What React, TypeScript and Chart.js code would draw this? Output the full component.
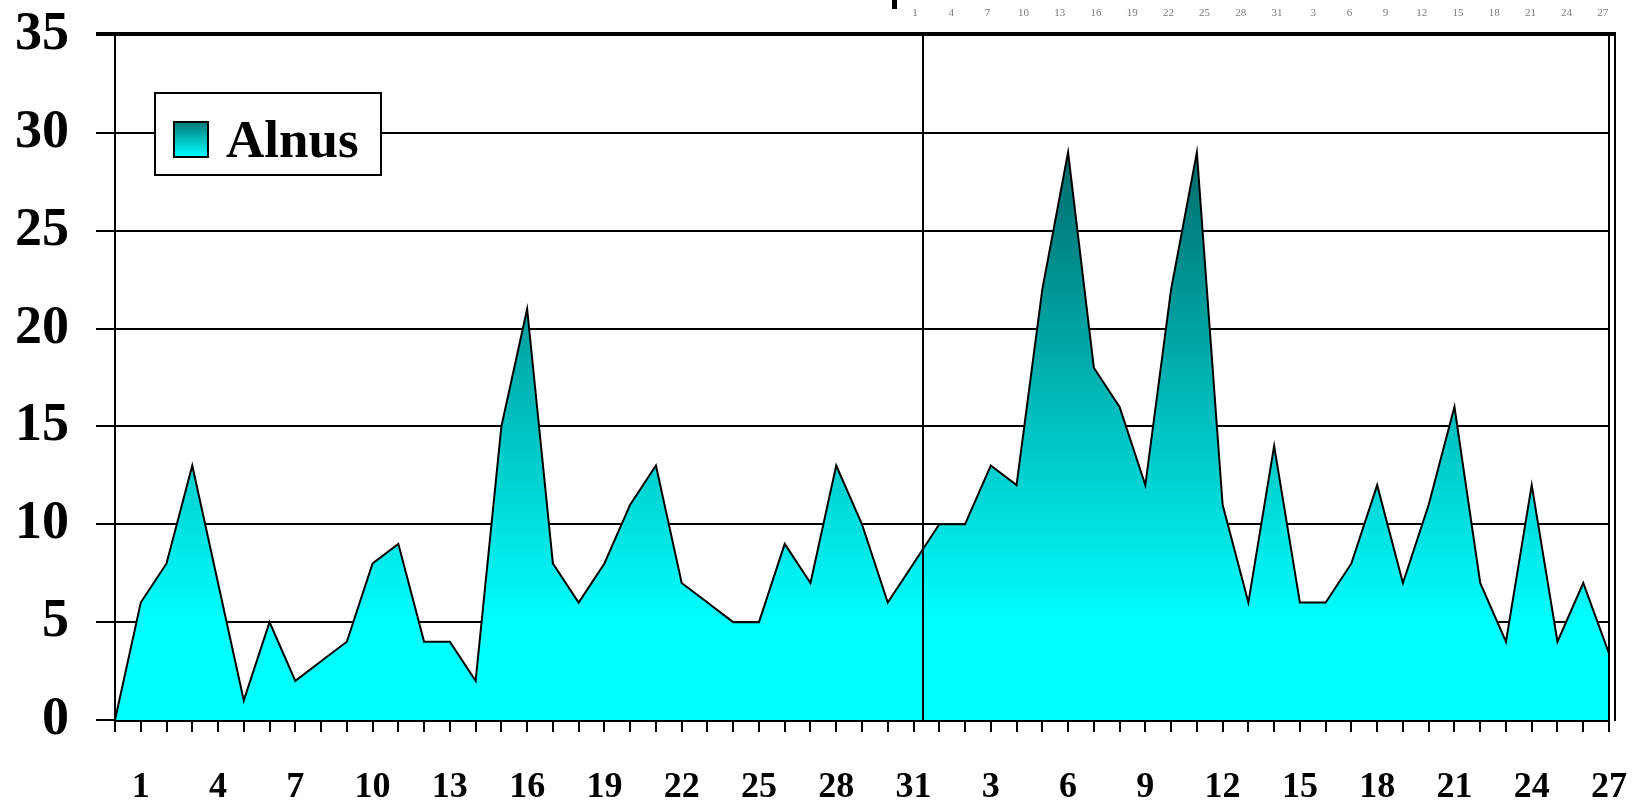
import React, { useEffect, useRef } from "react";
import { Chart, registerables } from "chart.js";

Chart.register(...registerables);

// ---- data ----
const seriesName = "Alnus";

// index 0 is the zero start point, then 1-31 (month 1) and 1-27 (month 2)
const dayLabels = [
  "",
  "1", "2", "3", "4", "5", "6", "7", "8", "9", "10",
  "11", "12", "13", "14", "15", "16", "17", "18", "19", "20",
  "21", "22", "23", "24", "25", "26", "27", "28", "29", "30", "31",
  "1", "2", "3", "4", "5", "6", "7", "8", "9", "10",
  "11", "12", "13", "14", "15", "16", "17", "18", "19", "20",
  "21", "22", "23", "24", "25", "26", "27",
];

const firstMonthValues = [
  0,
  6, 8, 13, 7, 1, 5, 2, 3, 4, 8,
  9, 4, 4, 2, 15, 21, 8, 6, 8, 11,
  13, 7, 6, 5, 5, 9, 7, 13, 10, 6, 8,
];

const secondMonthValues = [
  10, 10, 13, 12, 22, 29, 18, 16, 12, 22,
  29, 11, 6, 14, 6, 6, 8, 12, 7, 11,
  16, 7, 4, 12, 4, 7, 3.4,
];

const alnusValues = [...firstMonthValues, ...secondMonthValues];

const yMin = 0;
const yMax = 35;
const yStep = 5;

const topStripLabels = [
  "1", "4", "7", "10", "13", "16", "19", "22", "25", "28",
  "31", "3", "6", "9", "12", "15", "18", "21", "24", "27",
];

const monthBreakIndex = 31;

// ---- styles ----
const SERIF = "'Liberation Serif', 'Times New Roman', serif";

const decorPlugin = {
  id: "decor",
  afterDatasetsDraw(chart: any) {
    const { ctx, chartArea: a, scales } = chart;
    const x = scales.x;
    ctx.save();
    // month separator
    const p1 = x.getPixelForValue(monthBreakIndex);
    const p2 = x.getPixelForValue(monthBreakIndex + 1);
    const sx = Math.round(p1 + (p2 - p1) * 0.35);
    ctx.strokeStyle = "#000";
    ctx.lineWidth = 2;
    ctx.beginPath();
    ctx.moveTo(sx, a.top);
    ctx.lineTo(sx, a.bottom);
    ctx.stroke();
    // right double border
    ctx.beginPath();
    ctx.moveTo(a.right, a.top);
    ctx.lineTo(a.right, a.bottom);
    ctx.moveTo(a.right + 6, a.top);
    ctx.lineTo(a.right + 6, a.bottom + 1);
    ctx.stroke();
    // thick top border
    ctx.lineWidth = 4;
    ctx.beginPath();
    ctx.moveTo(a.left - 19, a.top - 1);
    ctx.lineTo(a.right + 7, a.top - 1);
    ctx.stroke();
    ctx.restore();
  },
  afterDraw(chart: any) {
    const { ctx, chartArea: a } = chart;
    ctx.save();
    // legend box
    const bx = a.left + 40;
    const by = a.top + 58;
    const bw = 226;
    const bh = 82;
    ctx.fillStyle = "#fff";
    ctx.fillRect(bx, by, bw, bh);
    ctx.strokeStyle = "#000";
    ctx.lineWidth = 2;
    ctx.strokeRect(bx, by, bw, bh);
    // swatch
    const sx = bx + 19;
    const sy = by + 29;
    const sw = 34;
    const sh = 35;
    const g = ctx.createLinearGradient(0, sy, 0, sy + sh);
    g.addColorStop(0, "#007a7a");
    g.addColorStop(1, "#00ffff");
    ctx.fillStyle = g;
    ctx.fillRect(sx, sy, sw, sh);
    ctx.lineWidth = 2;
    ctx.strokeRect(sx, sy, sw, sh);
    // legend text
    ctx.fillStyle = "#000";
    ctx.font = `bold 53px ${SERIF}`;
    ctx.textAlign = "left";
    ctx.textBaseline = "alphabetic";
    ctx.fillText(chart.data.datasets[0].label, bx + 71, sy + sh);

    // small strip of labels at the top
    ctx.fillStyle = "#7a7a7a";
    ctx.font = `11px ${SERIF}`;
    ctx.textAlign = "center";
    ctx.textBaseline = "middle";
    const start = 915;
    const step = 36.2;
    topStripLabels.forEach((t, i) => {
      ctx.fillText(t, start + i * step, 13);
    });
    // cut-off mark at top
    ctx.fillStyle = "#000";
    ctx.fillRect(892, 0, 5, 9);
    ctx.restore();
  },
};

export default function App() {
  const ref = useRef<HTMLCanvasElement | null>(null);

  useEffect(() => {
    if (!ref.current) return;
    const chart = new Chart(ref.current, {
      type: "line",
      data: {
        labels: dayLabels,
        datasets: [
          {
            label: seriesName,
            data: alnusValues,
            fill: "origin",
            borderColor: "#000",
            borderWidth: 2,
            pointRadius: 0,
            tension: 0,
            backgroundColor: (context: any) => {
              const c = context.chart;
              const { chartArea, scales } = c;
              if (!chartArea) return "#00ffff";
              const y = scales.y;
              const y0 = y.getPixelForValue(0);
              const y29 = y.getPixelForValue(29);
              const g = c.ctx.createLinearGradient(0, y0, 0, y29);
              g.addColorStop(0, "#00ffff");
              g.addColorStop(5 / 29, "#00ffff");
              g.addColorStop(1, "#006a6a");
              return g;
            },
          },
        ],
      },
      options: {
        responsive: false,
        devicePixelRatio: 1,
        animation: false,
        layout: { padding: { top: 35, right: 31, left: 0, bottom: 0 } },
        plugins: {
          legend: { display: false },
          tooltip: { enabled: false },
        },
        scales: {
          x: {
            type: "category",
            offset: false,
            afterFit(scale: any) {
              scale.height = 85;
              scale.paddingLeft = 0;
              scale.paddingRight = 0;
            },
            border: { display: true, color: "#000", width: 3 },
            grid: {
              display: true,
              drawOnChartArea: false,
              drawTicks: true,
              tickLength: 12,
              color: "#000",
              lineWidth: 2,
            },
            ticks: {
              autoSkip: false,
              maxRotation: 0,
              minRotation: 0,
              padding: 34,
              color: "#000",
              font: { family: SERIF, size: 36, weight: "bold" },
              callback: function (this: any, value: any, index: number) {
                if (index >= 1 && (index - 1) % 3 === 0) {
                  return this.getLabelForValue(value);
                }
                return "";
              },
            },
          },
          y: {
            min: yMin,
            max: yMax,
            afterFit(scale: any) {
              scale.width = 115;
              scale.paddingTop = 0;
              scale.paddingBottom = 0;
            },
            border: { display: true, color: "#000", width: 2 },
            grid: {
              color: "#000",
              lineWidth: 2,
              tickLength: 19,
              drawTicks: true,
            },
            ticks: {
              stepSize: yStep,
              padding: 27,
              color: "#000",
              font: { family: SERIF, size: 54, weight: "bold" },
            },
          },
        },
      },
      plugins: [decorPlugin],
    });
    return () => chart.destroy();
  }, []);

  return (
    <div
      style={{
        position: "fixed",
        left: 0,
        top: 0,
        width: 1640,
        height: 805,
        background: "#fff",
      }}
    >
      <canvas ref={ref} width={1640} height={805} />
    </div>
  );
}
